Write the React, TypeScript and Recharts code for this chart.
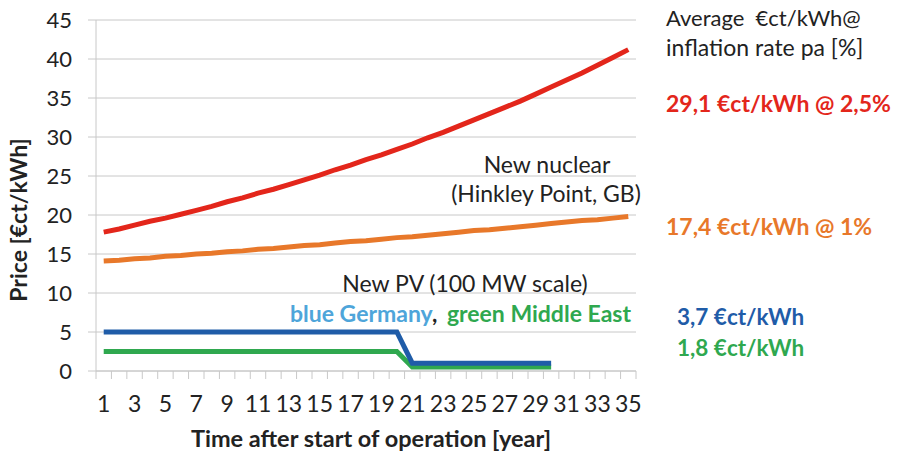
import { Line, LineChart, CartesianGrid, XAxis, YAxis } from 'recharts';

const years = [1, 2, 3, 4, 5, 6, 7, 8, 9, 10, 11, 12, 13, 14, 15, 16, 17, 18, 19, 20, 21, 22, 23, 24, 25, 26, 27, 28, 29, 30, 31, 32, 33, 34, 35];
const nuclear25 = [17.8, 18.2, 18.7, 19.2, 19.6, 20.1, 20.6, 21.1, 21.7, 22.2, 22.8, 23.3, 23.9, 24.5, 25.1, 25.8, 26.4, 27.1, 27.7, 28.4, 29.1, 29.9, 30.6, 31.4, 32.2, 33.0, 33.8, 34.6, 35.5, 36.4, 37.3, 38.2, 39.2, 40.2, 41.2];
const nuclear1 = [14.1, 14.2, 14.4, 14.5, 14.7, 14.8, 15.0, 15.1, 15.3, 15.4, 15.6, 15.7, 15.9, 16.1, 16.2, 16.4, 16.6, 16.7, 16.9, 17.1, 17.2, 17.4, 17.6, 17.8, 18.0, 18.1, 18.3, 18.5, 18.7, 18.9, 19.1, 19.3, 19.4, 19.6, 19.8];
const pvGermany = [5, 5, 5, 5, 5, 5, 5, 5, 5, 5, 5, 5, 5, 5, 5, 5, 5, 5, 5, 5, 1, 1, 1, 1, 1, 1, 1, 1, 1, 1, null, null, null, null, null];
const pvMiddleEast = [2.5, 2.5, 2.5, 2.5, 2.5, 2.5, 2.5, 2.5, 2.5, 2.5, 2.5, 2.5, 2.5, 2.5, 2.5, 2.5, 2.5, 2.5, 2.5, 2.5, 0.5, 0.5, 0.5, 0.5, 0.5, 0.5, 0.5, 0.5, 0.5, 0.5, null, null, null, null, null];
const xLabels = [1, 3, 5, 7, 9, 11, 13, 15, 17, 19, 21, 23, 25, 27, 29, 31, 33, 35];
const yTicks = [0, 5, 10, 15, 20, 25, 30, 35, 40, 45];

const data = years.map((year, i) => ({
  year,
  red: nuclear25[i],
  orange: nuclear1[i],
  blue: pvGermany[i],
  green: pvMiddleEast[i],
}));

// Excel-style tick marks sit between the categories
const boundaries = [0, ...years].map((y) => y + 0.5);

const font = 'Lato, "Open Sans", sans-serif';
const grey = '#c8c8c8';
const red = '#e3261b';
const orange = '#e8782a';
const blue = '#1f5ca8';
const green = '#2fa84f';

export default function App() {
  return (
    <div style={{ position: 'absolute', left: 0, top: 0, width: 897, height: 454, background: '#fff', fontFamily: font }}>
      <LineChart width={897} height={454} data={data} margin={{ top: 20, right: 261, bottom: 0, left: 0 }}>
        <CartesianGrid xAxisId="a" vertical={false} stroke={grey} />
        <XAxis
          xAxisId="a"
          dataKey="year"
          type="number"
          domain={[0.5, 35.5]}
          ticks={boundaries}
          tickFormatter={() => ''}
          stroke={grey}
          tickSize={8}
          height={8}
        />
        <XAxis
          xAxisId="b"
          dataKey="year"
          type="number"
          domain={[0.5, 35.5]}
          ticks={xLabels}
          axisLine={false}
          tickLine={false}
          tickSize={0}
          tickMargin={17}
          height={75}
          tick={{ fill: '#222', fontSize: 23, fontFamily: font }}
        />
        <YAxis
          domain={[0, 45]}
          ticks={yTicks}
          width={96}
          stroke={grey}
          tickSize={8}
          tickMargin={16}
          tick={{ fill: '#222', fontSize: 22, fontFamily: font }}
        />
        <Line xAxisId="a" dataKey="red" stroke={red} strokeWidth={5} dot={false} isAnimationActive={false} />
        <Line xAxisId="a" dataKey="orange" stroke={orange} strokeWidth={5} dot={false} isAnimationActive={false} />
        <Line xAxisId="a" dataKey="green" stroke={green} strokeWidth={5} dot={false} isAnimationActive={false} />
        <Line xAxisId="a" dataKey="blue" stroke={blue} strokeWidth={5} dot={false} isAnimationActive={false} />
      </LineChart>
      <svg width={897} height={454} style={{ position: 'absolute', left: 0, top: 0, pointerEvents: 'none' }} fontFamily={font} dominantBaseline="central">
        <text x={18} y={220} transform="rotate(-90 18 220)" textAnchor="middle" fontWeight="bold" fontSize={23} fill="#222">Price [€ct/kWh]</text>
        <text x={371} y={438} textAnchor="middle" fontWeight="bold" fontSize={23.5} fill="#222">Time after start of operation [year]</text>
        <text x={666} y={17} fontSize={22} fill="#222">{'Average\u00a0 €ct/kWh@'}</text>
        <text x={666} y={47} fontSize={23} fill="#222">inflation rate pa [%]</text>
        <text x={666} y={103} fontSize={23} fontWeight="bold" fill={red}>29,1 €ct/kWh @ 2,5%</text>
        <text x={547} y={164} textAnchor="middle" fontSize={23} fill="#222">New nuclear</text>
        <text x={546} y={193} textAnchor="middle" fontSize={23} fill="#222">(Hinkley Point, GB)</text>
        <text x={666} y={226} fontSize={23} fontWeight="bold" fill={orange}>17,4 €ct/kWh @ 1%</text>
        <text x={465} y={283} textAnchor="middle" fontSize={23} fill="#222">New PV (100 MW scale)</text>
        <text x={290} y={313} fontSize={23} fontWeight="bold">
          <tspan fill="#4ea5da">blue Germany</tspan>
          <tspan fill="#222">, </tspan>
          <tspan fill={green} dx={4}>green Middle East</tspan>
        </text>
        <text x={677} y={316} fontSize={22.5} fontWeight="bold" fill={blue}>3,7 €ct/kWh</text>
        <text x={677} y={347} fontSize={22.5} fontWeight="bold" fill={green}>1,8 €ct/kWh</text>
      </svg>
    </div>
  );
}
